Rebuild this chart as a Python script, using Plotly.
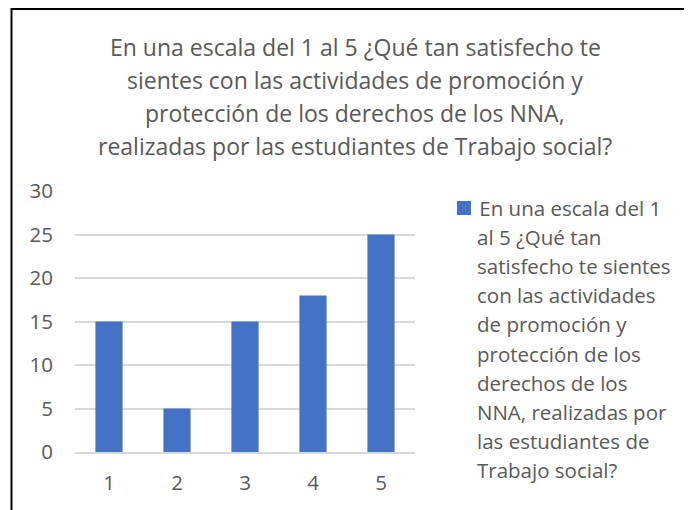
import plotly.graph_objects as go

categories = ["1", "2", "3", "4", "5"]
values = [15, 5, 15, 18, 25]
title_lines = [
    "En una escala del 1 al 5 ¿Qué tan satisfecho te",
    "sientes con las actividades de promoción y",
    "protección de los derechos de los NNA,",
    "realizadas por las estudiantes de Trabajo social?",
]
legend_lines = [
    " En una escala del 1",
    "al 5 ¿Qué tan",
    "satisfecho te sientes",
    "con las actividades",
    "de promoción y",
    "protección de los",
    "derechos de los",
    "NNA, realizadas por",
    "las estudiantes de",
    "Trabajo social?",
]
series_name = " ".join(title_lines)
y_ticks = [0, 5, 10, 15, 20, 25, 30]

OFF = 8  # browser default body margin
W, H = 692, 510
L, R, T, B = 75 - OFF, 415 - OFF, 191 - OFF, 452 - OFF
TXT = "#595959"
FONT = "Open Sans"

def px(x):
    return (x - OFF - L) / (R - L)

def py(y):
    return (B - (y - OFF)) / (B - T)

fig = go.Figure(go.Bar(
    x=categories, y=values, name=series_name,
    marker=dict(color="#4472C4", line=dict(width=0)),
    showlegend=False,
))

annotations = []
for i, line in enumerate(title_lines):
    annotations.append(dict(
        text=line, x=px(355), y=py(47 + i * 33), xref="paper", yref="paper",
        xanchor="center", yanchor="middle", showarrow=False,
        font=dict(family=FONT, size=23, color=TXT),
    ))
for i, line in enumerate(legend_lines):
    annotations.append(dict(
        text=line, x=px(475 if i else 472), y=py(208 + i * 29.1), xref="paper", yref="paper",
        xanchor="left", yanchor="middle", showarrow=False,
        font=dict(family=FONT, size=20.5, color=TXT),
    ))

shapes = [
    dict(type="rect", xref="paper", yref="paper",
         x0=px(11.5), x1=px(720), y0=py(9), y1=py(540),
         line=dict(color="#000000", width=2), fillcolor="rgba(0,0,0,0)", layer="below"),
    dict(type="rect", xref="paper", yref="paper",
         x0=px(457), x1=px(471), y0=py(201), y1=py(215),
         line=dict(width=0), fillcolor="#4472C4"),
]

fig.update_layout(
    width=W, height=H,
    margin=dict(l=L, r=W - R, t=T, b=H - B),
    paper_bgcolor="white", plot_bgcolor="white",
    bargap=0.6,
    font=dict(family=FONT, color=TXT),
    annotations=annotations, shapes=shapes,
    xaxis=dict(showgrid=False, showline=True, linecolor="#D9D9D9", linewidth=1.5,
               tickfont=dict(size=20.5, color=TXT), ticks="", ticklabelstandoff=12,
               fixedrange=True),
    yaxis=dict(range=[0, 30], tickvals=y_ticks, showgrid=True, gridcolor="#D9D9D9",
               gridwidth=1.5, zeroline=False, showline=False,
               tickfont=dict(size=20.5, color=TXT), ticks="", ticklabelstandoff=21,
               fixedrange=True),
)

fig.write_html("out.html")
